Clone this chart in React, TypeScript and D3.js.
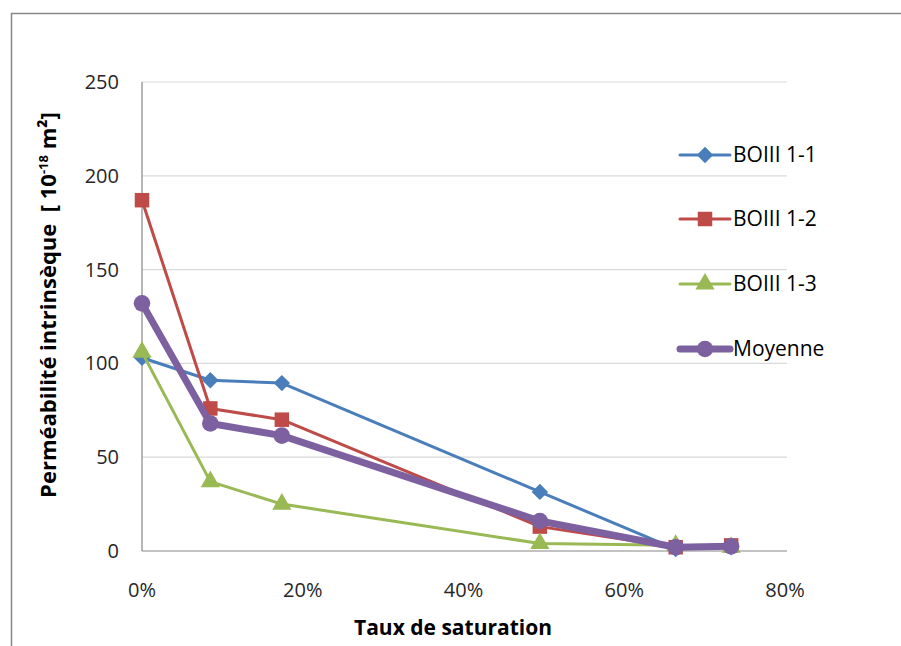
import React from "react";
import * as d3 from "d3";

const saturation = [0, 0.085, 0.174, 0.495, 0.664, 0.733];
const seriesNames = ["BOIII 1-1", "BOIII 1-2", "BOIII 1-3", "Moyenne"];
const boiii11 = [103, 91, 89.5, 31.5, 1, 2];
const boiii12 = [187, 76, 70, 13, 2, 3];
const boiii13 = [106, 37, 25, 4, 3, 2];
const moyenne = [132, 68, 61.5, 16, 2, 2.5];
const yTicks = [0, 50, 100, 150, 200, 250];
const xTicks = [0, 0.2, 0.4, 0.6, 0.8];

const colors = ["#4A7EBB", "#BE4B48", "#98B954", "#7D60A0"];
const widths = [3, 3, 3, 7];
const shapes = [d3.symbolSquare, d3.symbolSquare, d3.symbolTriangle, d3.symbolCircle];
const rotations = [45, 0, 0, 0];
const sizes = [135, 210, 160, 215];
const values = [boiii11, boiii12, boiii13, moyenne];

const FONT = "'Open Sans', 'Liberation Sans', sans-serif";

export default function App() {
  const left = 142, right = 785, top = 82, bottom = 551;
  const x = d3.scaleLinear().domain([0, 0.8]).range([left, right]);
  const y = d3.scaleLinear().domain([0, 250]).range([bottom, top]);
  const line = d3.line<number>().x((_, i) => x(saturation[i])).y((d) => y(d));
  const pct = d3.format(".0%");
  const legendY = [155, 219, 284, 349];

  return (
    <svg width={901} height={646} style={{ position: "absolute", left: 0, top: 0, background: "#fff" }}>
      <rect x={0} y={0} width={901} height={646} fill="#fff" />
      {/* outer frame (cropped at right and bottom) */}
      <path d="M11.5,646 L11.5,13.5 L901,13.5" fill="none" stroke="#868686" strokeWidth={1.5} />
      {/* gridlines */}
      {yTicks.map((t) => (
        <line key={t} x1={left} x2={787} y1={y(t)} y2={y(t)} stroke={t === 0 ? "#868686" : "#D9D9D9"} strokeWidth={1.2} />
      ))}
      <line x1={left} x2={left} y1={top} y2={bottom} stroke="#868686" strokeWidth={1.2} />
      {/* y ticks */}
      {yTicks.map((t) => (
        <text key={t} x={119} y={y(t)} dy="0.35em" textAnchor="end" fontFamily={FONT} fontSize={20} fill="#262626">
          {t}
        </text>
      ))}
      {xTicks.map((t) => (
        <text key={t} x={x(t)} y={597} textAnchor="middle" fontFamily={FONT} fontSize={20} fill="#262626">
          {pct(t)}
        </text>
      ))}
      {/* axis titles */}
      <text x={453} y={635} textAnchor="middle" fontFamily={FONT} fontSize={21} fontWeight="bold" fill="#000">
        Taux de saturation
      </text>
      <text transform="translate(56,305) rotate(-90)" textAnchor="middle" fontFamily={FONT} fontSize={22} fontWeight="bold" fill="#000">
        {"Perméabilité intrinsèque\u00A0\u00A0[\u00A010"}
        <tspan dy={-8} fontSize={13}>-18</tspan>
        <tspan dy={8}>{"\u00A0m²]"}</tspan>
      </text>
      {/* series */}
      {values.map((vals, s) => (
        <g key={s}>
          <path d={line(vals) || ""} fill="none" stroke={colors[s]} strokeWidth={widths[s]} strokeLinejoin="round" />
          {vals.map((v, i) => (
            <path
              key={i}
              d={d3.symbol().type(shapes[s]).size(sizes[s])() || ""}
              transform={`translate(${x(saturation[i])},${y(v)}) rotate(${rotations[s]})`}
              fill={colors[s]}
            />
          ))}
        </g>
      ))}
      {/* legend */}
      {seriesNames.map((n, s) => (
        <g key={n} transform={`translate(0,${legendY[s]})`}>
          <line x1={680} x2={730} y1={0} y2={0} stroke={colors[s]} strokeWidth={widths[s]} strokeLinecap="round" />
          <path d={d3.symbol().type(shapes[s]).size(sizes[s])() || ""} transform={`translate(705,0) rotate(${rotations[s]})`} fill={colors[s]} />
          <text x={733} y={0} dy="0.35em" fontFamily={FONT} fontSize={21} fill="#000">
            {n}
          </text>
        </g>
      ))}
    </svg>
  );
}
